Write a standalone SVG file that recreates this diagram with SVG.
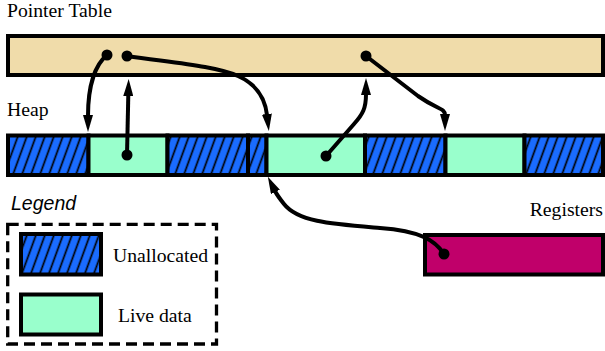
<svg xmlns="http://www.w3.org/2000/svg" width="605" height="351" viewBox="0 0 605 351">
<style>
  .lbl { font-family: "Liberation Serif", "Times New Roman", serif; font-size: 19.7px; fill: #000; }
  .leg { font-family: "Liberation Sans", Arial, sans-serif; font-style: italic; font-size: 19.5px; fill: #000; }
  .box { stroke: #000; stroke-width: 4; }
  .free { fill: url(#hatch); }
  .live { fill: #99ffcc; }
  .conn { fill: none; stroke: #000; stroke-width: 4; marker-end: url(#arrow); }
  .dot { fill: #000; }
</style>
<defs>
  <pattern id="hatch" width="9" height="10" patternUnits="userSpaceOnUse" patternTransform="skewX(-20)">
    <rect width="9" height="10" fill="#1a6cff"/>
    <line x1="4.5" y1="-1" x2="4.5" y2="11" stroke="#000" stroke-width="1.8"/>
  </pattern>
  <marker id="arrow" viewBox="0 0 17 10" refX="1" refY="5" markerWidth="17" markerHeight="10" markerUnits="userSpaceOnUse" orient="auto">
    <path d="M0,0 L17,5 L0,10 Z" fill="#000"/>
  </marker>
</defs>

<g id="pointer-table">
  <text class="lbl" x="7" y="17">Pointer Table</text>
  <rect class="box" x="8" y="36" width="595" height="39" fill="#f0dcaa"/>
</g>

<g id="heap">
  <text class="lbl" x="7" y="116">Heap</text>
  <rect id="heap-1" class="box free" x="8" y="135.5" width="80.5" height="39.5"/>
  <rect id="heap-2" class="box live" x="88.5" y="135.5" width="79" height="39.5"/>
  <rect id="heap-3" class="box free" x="167.5" y="135.5" width="80.5" height="39.5"/>
  <rect id="heap-4" class="box free" x="248" y="135.5" width="18.5" height="39.5"/>
  <rect id="heap-5" class="box live" x="266.5" y="135.5" width="98.5" height="39.5"/>
  <rect id="heap-6" class="box free" x="365" y="135.5" width="80.5" height="39.5"/>
  <rect id="heap-7" class="box live" x="445.5" y="135.5" width="79" height="39.5"/>
  <rect id="heap-8" class="box free" x="524.5" y="135.5" width="78.5" height="39.5"/>
</g>

<g id="registers">
  <text class="lbl" x="603" y="216" text-anchor="end">Registers</text>
  <rect class="box" x="425" y="235" width="178" height="39.5" fill="#c0006a"/>
</g>

<g id="legend">
  <text class="leg" x="11" y="210">Legend</text>
  <rect x="7.7" y="224.3" width="208.8" height="119.7" fill="none" stroke="#000" stroke-width="3.3" stroke-dasharray="11 6"/>
  <rect class="box free" x="21" y="234" width="80" height="40.5"/>
  <text class="lbl" x="113" y="262">Unallocated</text>
  <rect class="box live" x="21" y="294.5" width="80" height="40"/>
  <text class="lbl" x="118" y="322">Live data</text>
</g>

<g id="connectors">
  <path class="conn" d="M107,55 C96,64 88,84 88,116"/>
  <path class="conn" d="M127,155 L128.3,95"/>
  <path class="conn" d="M127,56 C175,63 215,66 238,76 C256,84 265,98 267,115"/>
  <path class="conn" d="M326,156 L354,124 C363,114 366,108 366,94"/>
  <path class="conn" d="M366,56 L418,96 C438,110 445,108 445,115"/>
  <path class="conn" d="M444,254 C435,240 420,231 380,228 C332,224 298,222 284,204 C280,199 277,195 275,191"/>
  <circle class="dot" cx="107" cy="55" r="5.5"/>
  <circle class="dot" cx="127" cy="56" r="5.5"/>
  <circle class="dot" cx="366" cy="56" r="5.5"/>
  <circle class="dot" cx="127" cy="155" r="5.5"/>
  <circle class="dot" cx="326" cy="156" r="5.5"/>
  <circle class="dot" cx="444" cy="254" r="5.5"/>
</g>
</svg>
